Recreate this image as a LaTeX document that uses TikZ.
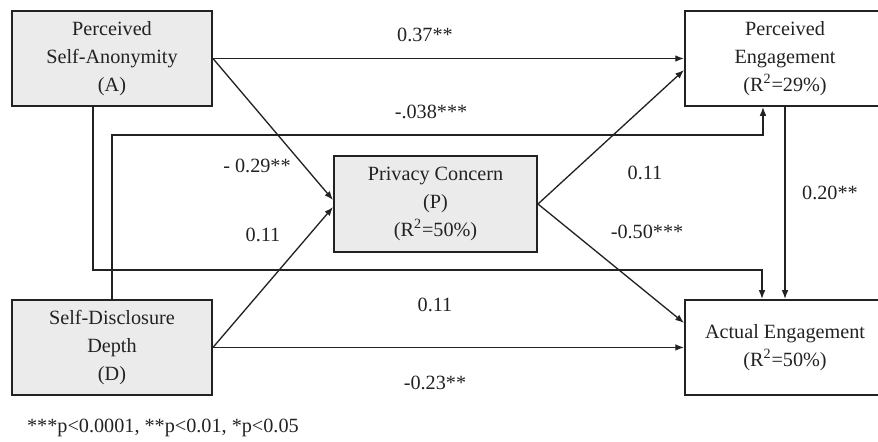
\documentclass[tikz,border=0pt]{standalone}
\usepackage{fontspec}
\setmainfont{Liberation Serif}
\usepackage{xcolor}
\usetikzlibrary{arrows.meta, positioning}

\definecolor{boxgray}{HTML}{EBEBEB}
\definecolor{inkgray}{HTML}{222222}

\begin{document}
\begin{tikzpicture}[
            font=\fontsize{11.5}{15.9}\selectfont,
            >={Latex[length=5pt, width=3.8pt]},
            construct/.style={rectangle, draw=inkgray, line width=1.1pt, fill=boxgray, minimum width=4cm, minimum height=1.9cm, align=center, text=inkgray},
            outcome/.style={construct, fill=white},
            link/.style={->, draw=inkgray, line width=0.75pt},
            coef/.style={text=inkgray, inner sep=1pt}
        ]
        \useasboundingbox (0,0) rectangle (17.56,-8.82);

        % Left side - predictors
        \node[construct] (anon) at (2.24,-1.17) {Perceived\\Self-Anonymity\\(A)};
        \node[construct, below=3.84cm of anon] (depth) {Self-Disclosure\\Depth\\(D)};

        % Middle - mediator
        \node[construct, minimum width=4.06cm, minimum height=1.92cm] (privacy) at (8.71,-4.08) {Privacy Concern\\(P)\\(R\textsuperscript{2}=50\%)};

        % Right side - outcomes
        \node[outcome] (percEng) at (15.7,-1.17) {Perceived\\Engagement\\(R\textsuperscript{2}=29\%)};
        \node[outcome, below=3.84cm of percEng] (actEng) {Actual Engagement\\(R\textsuperscript{2}=50\%)};

        % Bus lines
        \coordinate (highBus) at (0,-2.7);
        \coordinate (lowBus) at (0,-5.4);

        % Paths
        \draw[link] (anon.east) -- (percEng.west);
        \draw[link] (anon.east) -- ([yshift=0.08cm]privacy.west);
        \draw[link] (depth.east) -- ([yshift=-0.06cm]privacy.west);
        \draw[link] (depth.east) -- (actEng.west);
        \draw[link] (privacy.east) -- ([yshift=-0.23cm]percEng.west);
        \draw[link] (privacy.east) -- ([yshift=0.49cm]actEng.west);
        \draw[link] (percEng.south) -- (actEng.north);
        \draw[link] (depth.north) -- (depth.north |- highBus) -| ([xshift=-0.44cm]percEng.south);
        \draw[link] ([xshift=-0.38cm]anon.south) -- ([xshift=-0.38cm]anon.south |- lowBus) -| ([xshift=-0.46cm]actEng.north);

        % Coefficients
        \node[coef] (cAP) at (8.5,-0.7) {0.37**};
        \node[coef] (cDPE) at (8.62,-2.24) {-.038***};
        \node[coef] (cAPriv) at (5.14,-3.32) {- 0.29**};
        \node[coef] (cDPriv) at (5.26,-4.7) {0.11};
        \node[coef] (cAAE) at (8.7,-6.1) {0.11};
        \node[coef] (cDAE) at (8.7,-7.66) {-0.23**};
        \node[coef] (cPrivPE) at (12.9,-3.46) {0.11};
        \node[coef] (cPrivAE) at (12.94,-4.64) {-0.50***};
        \node[coef] (cPEAE) at (16.6,-3.86) {0.20**};

        % Legend
        \node[coef, anchor=west] (legend) at (0.5,-8.56) {***p<0.0001, **p<0.01, *p<0.05};

    \end{tikzpicture}
\end{document}
